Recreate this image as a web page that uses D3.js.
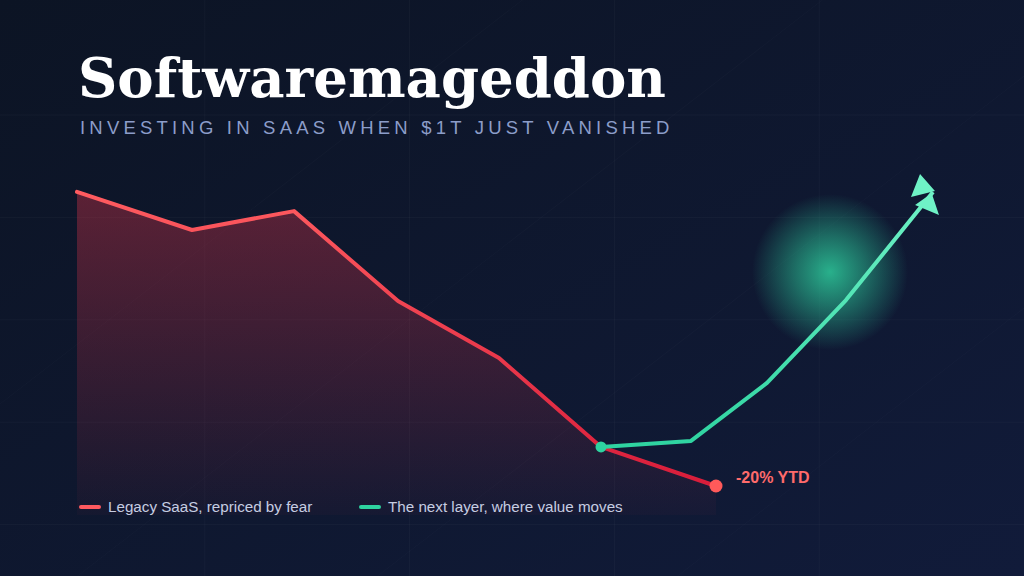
<!DOCTYPE html>
<html><head><meta charset="utf-8">
<script src="https://cdn.jsdelivr.net/npm/d3@7"></script>
<style>html,body{margin:0;padding:0;background:#0d1526;overflow:hidden}</style>
</head><body>
<svg id="c" width="1024" height="576"></svg>
<script>
// ---- data ----
const title = "Softwaremageddon";
const subtitle = "INVESTING IN SAAS WHEN $1T JUST VANISHED";
const legacyX = [0, 115, 217, 321, 422, 524, 639];
const legacyY = [99.4, 87.5, 93.4, 65.3, 47.5, 19.7, 7.5];
const nextX = [524, 614, 690, 769, 856];
const nextY = [19.7, 21.6, 39.7, 65.6, 99.4];
const seriesNames = ["Legacy SaaS, repriced by fear", "The next layer, where value moves"];
const endLabel = "-20% YTD";

const W = 1024, H = 576;
const svg = d3.select("#c");
const defs = svg.append("defs");

const x = d3.scaleLinear().domain([0, 856]).range([77, 933]);
const y = d3.scaleLinear().domain([0, 100]).range([510, 190]);

// background
const bg = defs.append("linearGradient").attr("id","bg").attr("x1",0).attr("y1",0).attr("x2",1).attr("y2",1);
bg.append("stop").attr("offset","0%").attr("stop-color","#0c1424");
bg.append("stop").attr("offset","100%").attr("stop-color","#111b3a");
svg.append("rect").attr("width",W).attr("height",H).attr("fill","url(#bg)");

// faint diagonal streaks
const diag = svg.append("g").attr("stroke","#ffffff").attr("stroke-opacity",0.018).attr("stroke-width",1);
[-300, 0, 300, 600].forEach(o => diag.append("line").attr("x1",o).attr("y1",H+60).attr("x2",o+900).attr("y2",-60));

// faint grid
const grid = svg.append("g").attr("stroke","#ffffff").attr("stroke-opacity",0.03);
d3.range(1,5).forEach(i => grid.append("line").attr("x1",i*204.8).attr("x2",i*204.8).attr("y1",0).attr("y2",H));
d3.range(0,5).forEach(i => grid.append("line").attr("y1",115+i*102.4).attr("y2",115+i*102.4).attr("x1",0).attr("x2",W));

// glow
const glow = defs.append("radialGradient").attr("id","glow");
glow.append("stop").attr("offset","0%").attr("stop-color","#2fd6a2").attr("stop-opacity",0.8);
glow.append("stop").attr("offset","45%").attr("stop-color","#2fd6a2").attr("stop-opacity",0.45);
glow.append("stop").attr("offset","100%").attr("stop-color","#2fd6a2").attr("stop-opacity",0);
svg.append("circle").attr("cx",830).attr("cy",272).attr("r",78).attr("fill","url(#glow)");

// title
svg.append("text").attr("x",78).attr("y",97).text(title)
  .attr("font-family","DejaVu Serif").attr("font-weight","bold").attr("font-size",54.5).attr("fill","#ffffff");
svg.append("text").attr("x",80).attr("y",134).text(subtitle)
  .attr("font-family","Liberation Sans, Arial, sans-serif").attr("font-size",18.5).attr("letter-spacing",4.2).attr("fill","#8c9dc9");

// gradients for series
const areaG = defs.append("linearGradient").attr("id","areaG").attr("gradientUnits","userSpaceOnUse").attr("x1",0).attr("y1",190).attr("x2",0).attr("y2",515);
areaG.append("stop").attr("offset","0%").attr("stop-color","#e8364c").attr("stop-opacity",0.36);
areaG.append("stop").attr("offset","100%").attr("stop-color","#e8364c").attr("stop-opacity",0.03);
const redG = defs.append("linearGradient").attr("id","redG").attr("gradientUnits","userSpaceOnUse").attr("x1",0).attr("y1",190).attr("x2",0).attr("y2",490);
redG.append("stop").attr("offset","0%").attr("stop-color","#ff5c60");
redG.append("stop").attr("offset","100%").attr("stop-color","#d81c3a");
const greenG = defs.append("linearGradient").attr("id","greenG").attr("gradientUnits","userSpaceOnUse").attr("x1",0).attr("y1",450).attr("x2",0).attr("y2",190);
greenG.append("stop").attr("offset","0%").attr("stop-color","#2ed3a0");
greenG.append("stop").attr("offset","100%").attr("stop-color","#6ff2c6");

// arrow marker
defs.append("marker").attr("id","arrow").attr("markerUnits","userSpaceOnUse")
  .attr("viewBox","-25 -25 50 50").attr("markerWidth",50).attr("markerHeight",50)
  .attr("refX",0).attr("refY",0).attr("orient","auto")
  .append("path").attr("d","M5.9,-21.4L-17.7,-14L2,0.9Z M-14.2,19.1L-21.4,-5.8L-1.8,-0.2Z").attr("fill","#6ff2c6");

const legacy = legacyX.map((d,i)=>[d, legacyY[i]]);
const next = nextX.map((d,i)=>[d, nextY[i]]);

// area
svg.append("path").datum(legacy)
  .attr("d", d3.area().x(d=>x(d[0])).y0(515).y1(d=>y(d[1])))
  .attr("fill","url(#areaG)");
// legacy line
svg.append("path").datum(legacy)
  .attr("d", d3.line().x(d=>x(d[0])).y(d=>y(d[1])))
  .attr("fill","none").attr("stroke","url(#redG)").attr("stroke-width",4).attr("stroke-linejoin","round").attr("stroke-linecap","round");
// next line
svg.append("path").datum(next)
  .attr("d", d3.line().x(d=>x(d[0])).y(d=>y(d[1])))
  .attr("fill","none").attr("stroke","url(#greenG)").attr("stroke-width",4).attr("stroke-linejoin","round")
  .attr("marker-end","url(#arrow)");

// dots
svg.append("circle").attr("cx",x(nextX[0])).attr("cy",y(nextY[0])).attr("r",5.5).attr("fill","#2ed3a0");
const last = legacy[legacy.length-1];
svg.append("circle").attr("cx",x(last[0])).attr("cy",y(last[1])).attr("r",6.5).attr("fill","#ff5a5a");
svg.append("text").attr("x",x(last[0])+20).attr("y",y(last[1])-3).text(endLabel)
  .attr("font-family","Liberation Sans, Arial, sans-serif").attr("font-weight","bold").attr("font-size",16).attr("fill","#ff6b6b");

// legend
const legColors = ["#ff5a5f", "#2ed3a0"];
const legX = [80, 360];
seriesNames.forEach((n,i)=>{
  const g = svg.append("g").attr("transform",`translate(${legX[i]},507)`);
  g.append("line").attr("x1",1).attr("x2",19).attr("y1",0).attr("y2",0).attr("stroke",legColors[i]).attr("stroke-width",4).attr("stroke-linecap","round");
  g.append("text").attr("x",28).attr("y",5).text(n)
    .attr("font-family","Liberation Sans, Arial, sans-serif").attr("font-size",15.2).attr("fill","#c6cde2");
});
</script>
</body></html>
